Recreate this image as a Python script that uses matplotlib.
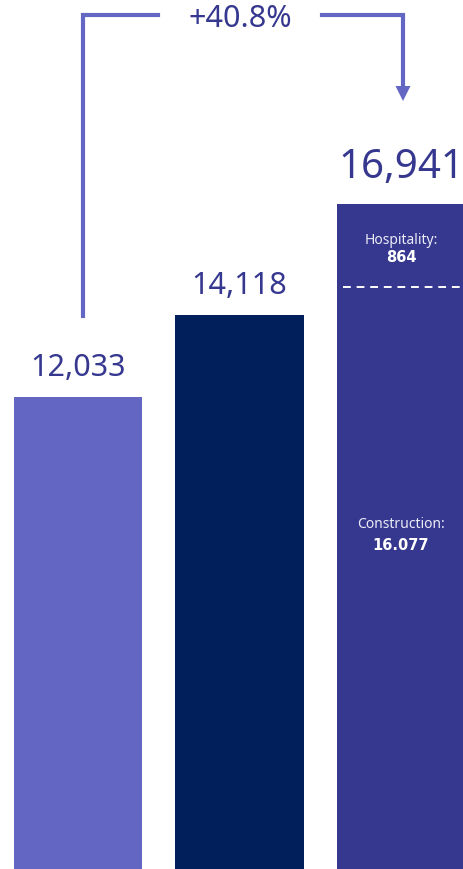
import matplotlib
matplotlib.use("Agg")
import matplotlib.pyplot as plt

categories = ["A", "B", "C"]
values = [12033, 14118, 16941]
value_labels = ["12,033", "14,118", "16,941"]
bar_colors = ["#6466C4", "#001F5B", "#363890"]
growth_label = "+40.8%"
seg_labels = [("Hospitality:", "864"), ("Construction:", "16.077")]

plt.rcParams['font.family'] = ['Noto Sans', 'DejaVu Sans']
TXT = "#363890"
ARR = "#6466C4"

fig = plt.figure(figsize=(4.64, 8.69), dpi=100)
ax = fig.add_axes([0, 0, 1, 1])
W, H = 464, 869
px_per_unit = 161.5
xl = (0 - 78) / px_per_unit
xr = 2 + (W - 401) / px_per_unit
ax.set_xlim(xl, xr)
ymax = 869 / 0.03923
ax.set_ylim(0, ymax)
ax.axis("off")

xs = list(range(len(categories)))
ax.bar(xs, values, width=128 / px_per_unit, color=bar_colors, align="center")

def py(p):  # pixel row -> data y
    return (H - p) / H * ymax

def pxx(p):  # pixel col -> data x
    return xl + p / W * (xr - xl)

sizes = [22, 22, 29]
offs = [29, 29, 36]
for x, v, lab, s, o in zip(xs, values, value_labels, sizes, offs):
    ax.text(x, v + o / 0.03923, lab, ha="center", va="center", fontsize=s, color=TXT)

# segment labels inside third bar
bold_fam = ['DejaVu Sans']
ax.text(2, py(240), seg_labels[0][0], ha="center", va="center", fontsize=10, color="#ECECF6")
ax.text(2, py(257), seg_labels[0][1], ha="center", va="center", fontsize=10.5, color="white",
        fontweight="bold", family=bold_fam)
ax.plot([pxx(343), pxx(462)], [py(287), py(287)], color="white", lw=1.4, ls=(0, (4, 3)))
ax.text(2, py(524), seg_labels[1][0], ha="center", va="center", fontsize=10, color="#ECECF6")
ax.text(2, py(546), seg_labels[1][1], ha="center", va="center", fontsize=10.5, color="white",
        fontweight="bold", family=bold_fam)

# growth connector
ax.plot([pxx(83), pxx(83), pxx(158)], [py(316), py(15), py(15)], color=ARR, lw=3, solid_joinstyle="miter")
ax.plot([pxx(322), pxx(403), pxx(403)], [py(15), py(15), py(88)], color=ARR, lw=3, solid_joinstyle="miter")
ax.fill([pxx(395.5), pxx(410.5), pxx(403)], [py(86), py(86), py(101)], color=ARR, lw=0)
ax.text(pxx(240), py(19), growth_label, ha="center", va="center", fontsize=22, color=TXT)

fig.savefig("out.png", dpi=100)
